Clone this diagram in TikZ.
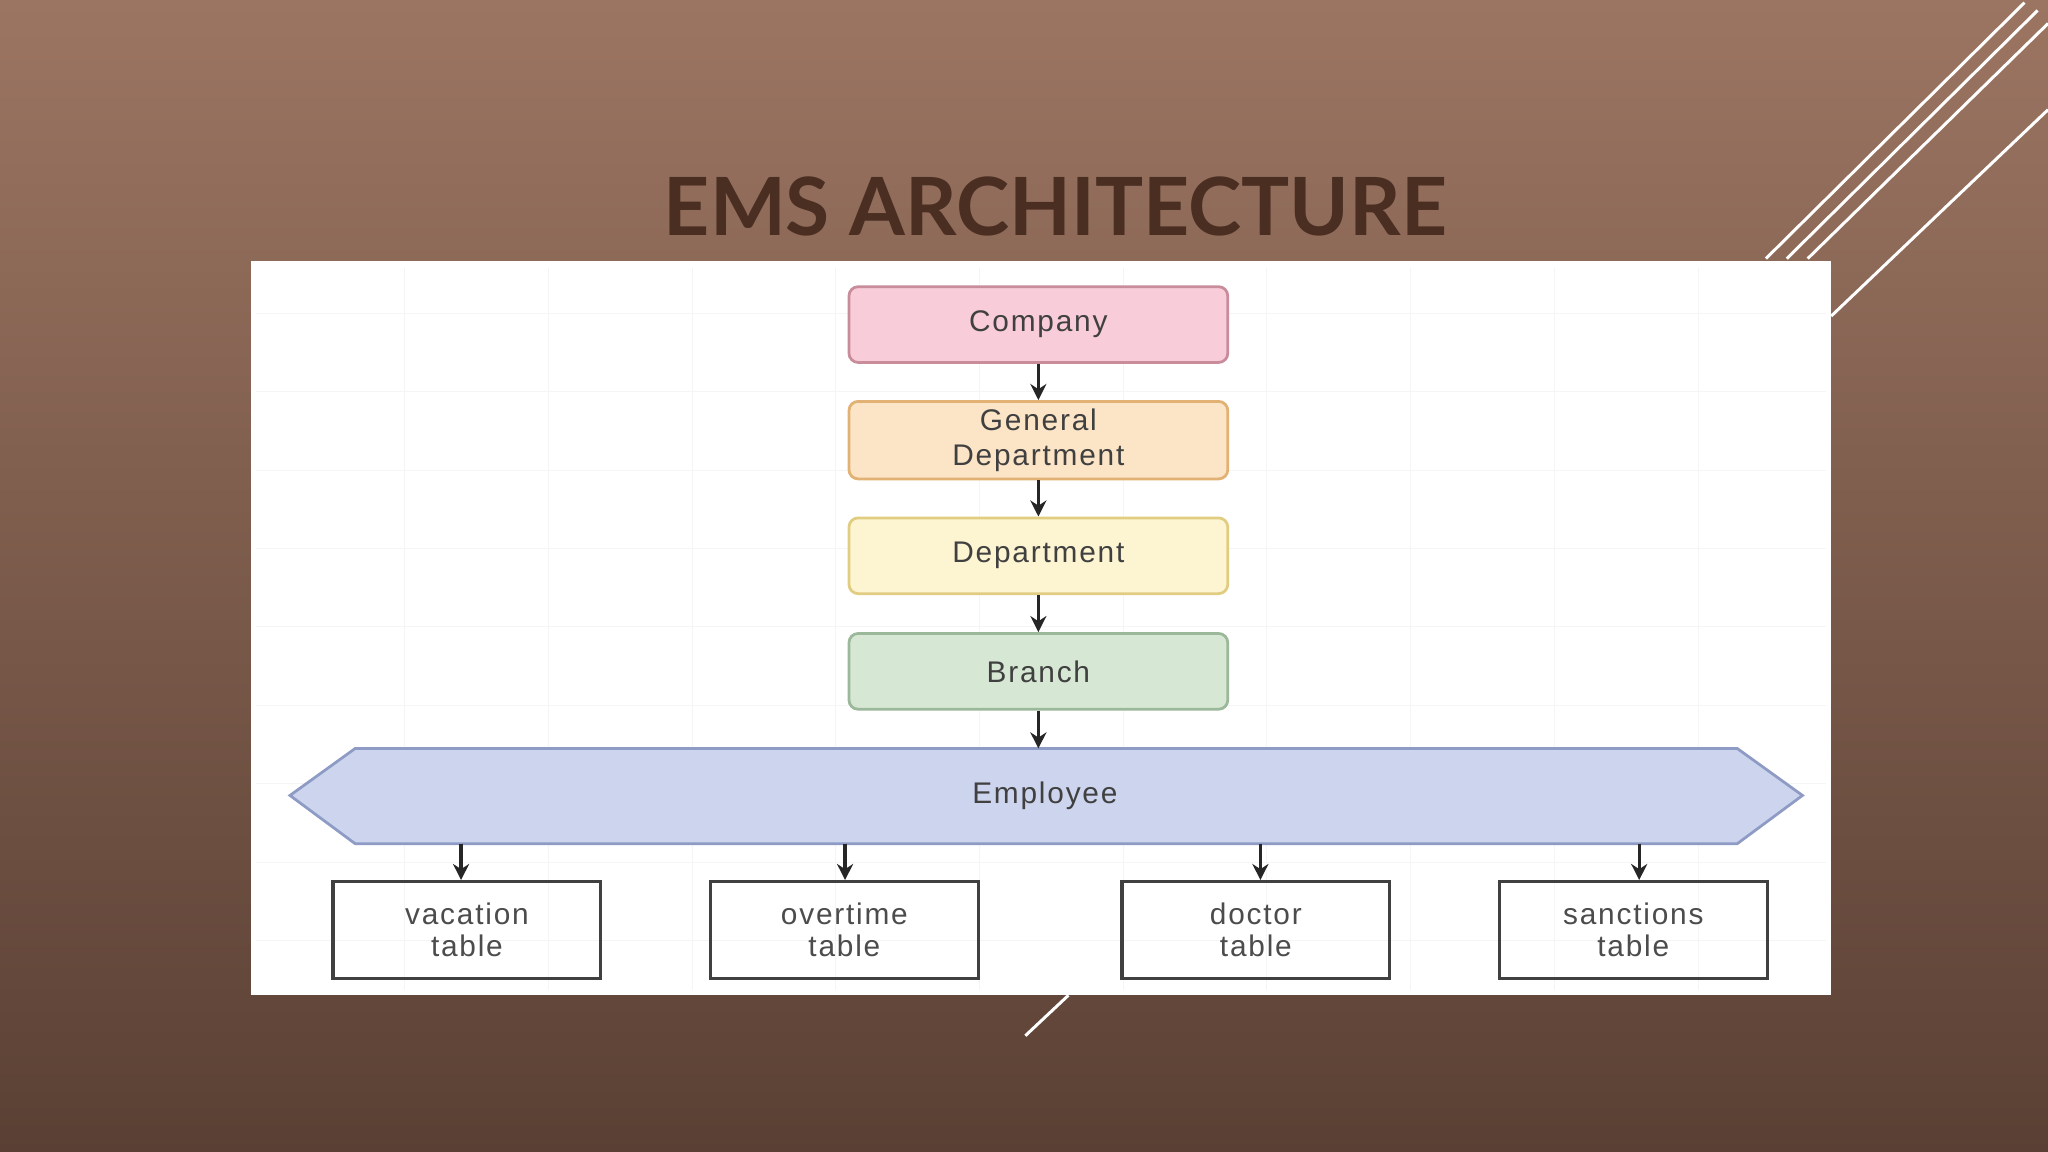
\documentclass[tikz,border=0pt]{standalone}
\usepackage{fontspec}
\setmainfont{Liberation Sans}[LetterSpace=6]
\newfontfamily\titlefont{Lato}
\usetikzlibrary{arrows.meta}
\definecolor{bgtop}{HTML}{9C7562}
\definecolor{bgbot}{HTML}{5A4034}
\definecolor{titlec}{HTML}{4A2E22}
\tikzset{
  lvl/.style={draw, line width=1.2pt, rounded corners=4pt, minimum width=290*0.02cm, minimum height=58*0.02cm, align=center, font=\fontsize{13}{15}\selectfont, text=black!75},
  tbl/.style={draw=black!75, line width=1.4pt, minimum width=205*0.02cm, minimum height=74*0.02cm, align=center, font=\fontsize{13}{14}\selectfont, text=black!70},
  arr/.style={-{Stealth[length=7pt,width=7pt]}, line width=1.4pt, black!85},
  deco/.style={white, line width=1.3pt}
}
\begin{document}
\begin{tikzpicture}[x=0.02cm,y=-0.02cm]
\useasboundingbox (0,0) rectangle (1568,882);
\shade[shading=axis, shading angle=200, top color=bgtop, bottom color=bgbot] (0,0) rectangle (1568,882);
\node[font=\titlefont\bfseries\fontsize{35}{40}\selectfont, text=titlec] (title) at (808,158) {EMS ARCHITECTURE};
% panel
\fill[white] (192,200) rectangle (1402,762);
\foreach \x in {310,420,530,640,750,860,970,1080,1190,1300} \draw[black!4] (\x,205) -- (\x,758);
\foreach \y in {240,300,360,420,480,540,600,660,720} \draw[black!4] (196,\y) -- (1398,\y);
% decorations
\draw[deco] (1352,198) -- (1550,2);
\draw[deco] (1368,198) -- (1560,8);
\draw[deco] (1384,198) -- (1568,18);
\draw[deco] (1402,242) -- (1568,84);
\draw[deco] (785,793) -- (818,762);
% levels
\node[lvl, fill={rgb,255:red,248;green,204;blue,216}, draw={rgb,255:red,200;green,140;blue,155}] (comp) at (795,248.5) {Company};
\node[lvl, fill={rgb,255:red,252;green,228;blue,198}, draw={rgb,255:red,225;green,178;blue,115}] (gen) at (795,337) {General\\Department};
\node[lvl, fill={rgb,255:red,253;green,244;blue,210}, draw={rgb,255:red,225;green,205;blue,130}] (dep) at (795,425.5) {Department};
\node[lvl, fill={rgb,255:red,214;green,232;blue,212}, draw={rgb,255:red,156;green,184;blue,154}] (br) at (795,514) {Branch};
\draw[line width=1.2pt, fill={rgb,255:red,205;green,213;blue,238}, draw={rgb,255:red,142;green,155;blue,196}]
  (222,609) -- (272,573) -- (1330,573) -- (1380,609) -- (1330,646) -- (272,646) -- cycle;
\node[font=\fontsize{13}{15}\selectfont, text=black!75] (emp) at (800,609) {Employee};
\coordinate (etop) at (795,573);
\foreach \x/\n in {353/a,647/b,965/c,1255/d} \coordinate (e\n) at (\x,646);
\node[tbl] (vac) at (357.5,712) {vacation\\table};
\node[tbl] (ovt) at (646.5,712) {overtime\\table};
\node[tbl] (doc) at (961.5,712) {doctor\\table};
\node[tbl] (san) at (1250.5,712) {sanctions\\table};
\draw[arr] (comp) -- (gen);
\draw[arr] (gen) -- (dep);
\draw[arr] (dep) -- (br);
\draw[arr] (br) -- (etop);
\draw[arr] (ea) -- (ea |- vac.north);
\draw[arr] (eb) -- (eb |- ovt.north);
\draw[arr] (ec) -- (ec |- doc.north);
\draw[arr] (ed) -- (ed |- san.north);
\end{tikzpicture}
\end{document}
